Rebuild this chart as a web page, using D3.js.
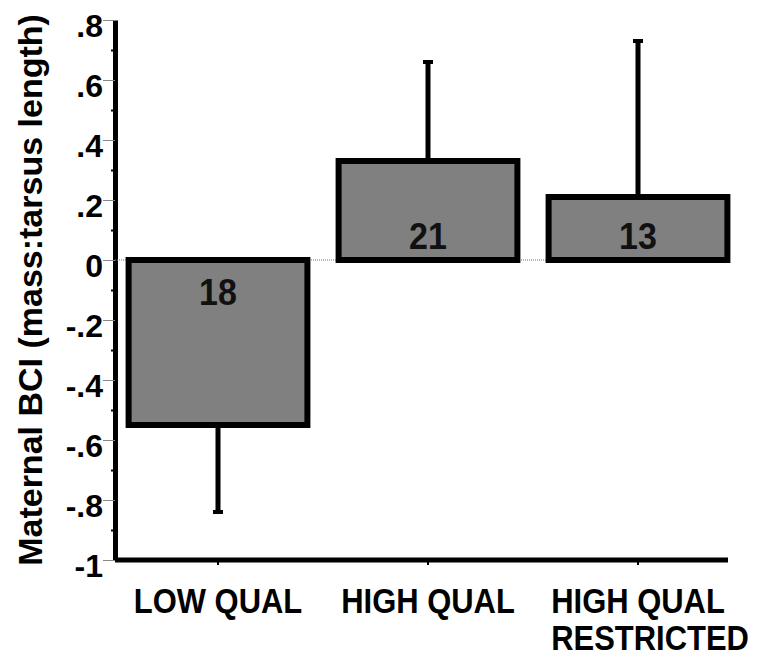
<!DOCTYPE html>
<html>
<head>
<meta charset="utf-8">
<script src="https://cdn.jsdelivr.net/npm/d3@7"></script>
<style>
  body { margin: 0; background: #fff; }
  svg { display: block; font-family: "Liberation Sans", Arial, sans-serif; font-weight: bold; }
</style>
</head>
<body>
<svg></svg>
<script>
const groups = ["LOW QUAL", "HIGH QUAL", "HIGH QUAL\nRESTRICTED"];
const means = [-0.55, 0.33, 0.21];
const errors = [0.29, 0.33, 0.52];
const counts = [18, 21, 13];

const yTicks = [-1, -0.8, -0.6, -0.4, -0.2, 0, 0.2, 0.4, 0.6, 0.8];
const yTickLabels = ["-1", "-.8", "-.6", "-.4", "-.2", "0", ".2", ".4", ".6", ".8"];
const yMinorTicks = [-0.9, -0.7, -0.5, -0.3, -0.1, 0.1, 0.3, 0.5, 0.7];
const yLabel = "Maternal BCI (mass:tarsus length)";

const data = groups.map((g, i) => ({ group: g, mean: means[i], err: errors[i], n: counts[i] }));

const svgWidth = 758, svgHeight = 663;
const axisX = 115, axisEnd = 728;

const svg = d3.select("svg")
    .attr("width", svgWidth)
    .attr("height", svgHeight);

const x = d3.scaleBand()
    .domain(groups)
    .range([113, 743])
    .paddingInner(0.12)
    .paddingOuter(0.06);

const y = d3.scaleLinear()
    .domain([-1, 0.8])
    .range([560, 20]);

// minor ticks
svg.append("g")
    .attr("transform", "translate(" + axisX + ",0)")
    .call(d3.axisLeft(y).tickValues(yMinorTicks).tickSize(4).tickFormat(""))
    .call(g => g.select(".domain").remove())
    .call(g => g.selectAll(".tick line").attr("stroke", "#000").attr("stroke-width", 2));

// major ticks + axis line
svg.append("g")
    .attr("transform", "translate(" + axisX + ",0)")
    .call(d3.axisLeft(y).tickValues(yTicks).tickSize(12).tickSizeOuter(0)
        .tickFormat((d, i) => yTickLabels[i]))
    .call(g => g.select(".domain").attr("stroke", "#000").attr("stroke-width", 5))
    .call(g => g.selectAll(".tick line").attr("stroke", "#888").attr("stroke-width", 1))
    .call(g => g.selectAll(".tick text")
        .attr("x", -12)
        .attr("dy", "0.5em")
        .attr("fill", "#000")
        .style("font-size", "32px")
        .style("font-family", "'Liberation Sans', Arial, sans-serif")
        .style("font-weight", "bold"));

// zero line
svg.append("line")
    .attr("x1", axisX)
    .attr("x2", x.range()[1] - 12)
    .attr("y1", y(0))
    .attr("y2", y(0))
    .attr("stroke", "#777")
    .attr("stroke-width", 1)
    .attr("stroke-dasharray", "1,1");

// error bars
const eb = svg.append("g");
eb.selectAll("line")
    .data(data)
    .join("line")
    .attr("x1", d => x(d.group) + x.bandwidth() / 2)
    .attr("x2", d => x(d.group) + x.bandwidth() / 2)
    .attr("y1", d => y(d.mean))
    .attr("y2", d => y(d.mean + Math.sign(d.mean) * d.err))
    .attr("stroke", "#000")
    .attr("stroke-width", 5);
eb.selectAll("rect")
    .data(data)
    .join("rect")
    .attr("x", d => x(d.group) + x.bandwidth() / 2 - 5)
    .attr("y", d => y(d.mean + Math.sign(d.mean) * d.err) - 2)
    .attr("width", 10)
    .attr("height", 4)
    .attr("fill", "#000");

// bars
svg.append("g")
    .selectAll("rect")
    .data(data)
    .join("rect")
    .attr("x", d => x(d.group) + 3)
    .attr("width", x.bandwidth() - 6)
    .attr("y", d => y(Math.max(0, d.mean)))
    .attr("height", d => Math.abs(y(d.mean) - y(0)))
    .attr("fill", "#808080")
    .attr("stroke", "#000")
    .attr("stroke-width", 6);

// counts
svg.append("g")
    .selectAll("text")
    .data(data)
    .join("text")
    .attr("transform", d => "translate(" + (x(d.group) + x.bandwidth() / 2) + "," +
        (d.mean >= 0 ? y(0) - 11 : y(0) + 45) + ") scale(0.92,1)")
    .attr("text-anchor", "middle")
    .style("font-size", "37px")
    .attr("fill", "#111")
    .text(d => d.n);

// x axis
svg.append("line")
    .attr("x1", axisX)
    .attr("x2", axisEnd)
    .attr("y1", y(-1))
    .attr("y2", y(-1))
    .attr("stroke", "#000")
    .attr("stroke-width", 5);

svg.append("g")
    .selectAll("line")
    .data(groups)
    .join("line")
    .attr("x1", d => x(d) + x.bandwidth() / 2)
    .attr("x2", d => x(d) + x.bandwidth() / 2)
    .attr("y1", y(-1))
    .attr("y2", y(-1) + 5)
    .attr("stroke", "#000")
    .attr("stroke-width", 2);

const sx = 0.86;
const xl = svg.append("g")
    .selectAll("g")
    .data(groups)
    .join("g");

xl.each(function(d) {
    const cx = x(d) + x.bandwidth() / 2;
    const lines = d.split("\n");
    const first = d3.select(this).append("text")
        .attr("transform", "translate(" + cx + ",613) scale(" + sx + ",1)")
        .attr("text-anchor", "middle")
        .style("font-size", "36px")
        .text(lines[0]);
    if (lines[1]) {
        const left = cx - first.node().getComputedTextLength() * sx / 2;
        d3.select(this).append("text")
            .attr("transform", "translate(" + left + ",650) scale(" + sx + ",1)")
            .attr("text-anchor", "start")
            .style("font-size", "36px")
            .text(lines[1]);
    }
});

// y label
svg.append("text")
    .attr("transform", "translate(42," + (y(-1) + y(0.8)) / 2 + ") rotate(-90)")
    .attr("text-anchor", "middle")
    .style("font-size", "34px")
    .text(yLabel);
</script>
</body>
</html>
